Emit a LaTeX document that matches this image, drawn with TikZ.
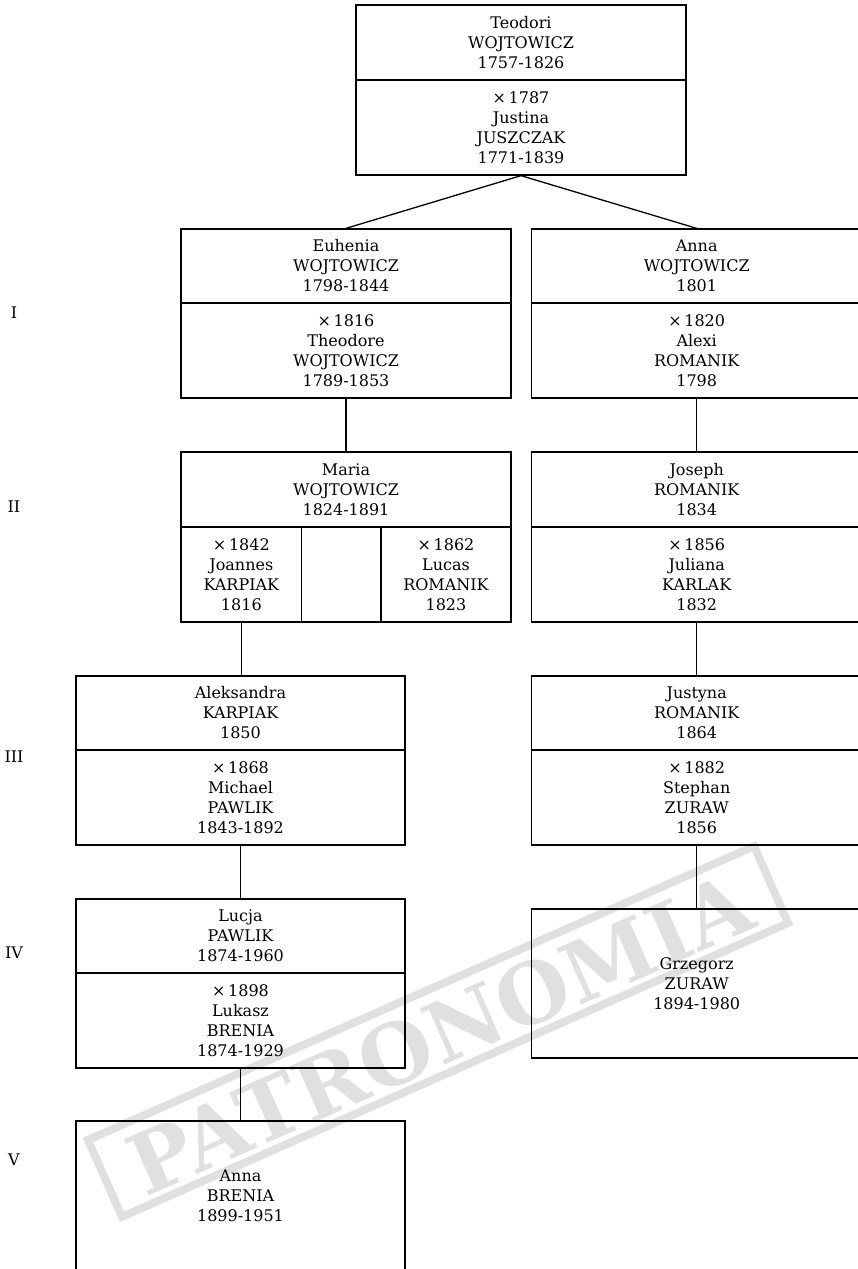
\documentclass[tikz,border=0pt]{standalone}
\usepackage{fontspec}
\setmainfont{DejaVu Serif}
\begin{document}
\begin{tikzpicture}[x=1pt,y=-1pt,
  every node/.style={inner sep=0pt, align=center, font=\fontsize{16}{20}\selectfont},
  sec/.style={draw, line width=1.3pt, minimum width=330pt},
  link/.style={line width=1.3pt},
  gen/.style={font=\fontsize{16}{20}\selectfont},
  stampcol/.style={color=black!12}]
\useasboundingbox (0,0) rectangle (857,1269);
% watermark
\node[stampcol, draw, line width=8pt, minimum width=728pt, minimum height=84pt, rotate=23.8] (stampframe) at (438,1031.5) {};
\node[stampcol, text=black!12, rotate=23.8, font=\fontsize{84}{88}\bfseries\selectfont] (stamptext) at (440,1034) {PATRONOMIA};
% generations
\node[gen] (g1) at (14,313) {I};
\node[gen] (g2) at (14,507) {II};
\node[gen] (g3) at (14,757) {III};
\node[gen] (g4) at (14,953) {IV};
\node[gen] (g5) at (14,1160) {V};
% top couple
\node[sec, minimum height=75pt] (T1) at (521,42.5) {Teodori\\WOJTOWICZ\\1757-1826};
\node[sec, minimum height=95pt] (T2) at (521,127.5) {×\,1787\\Justina\\JUSZCZAK\\1771-1839};
% left branch
\node[sec, minimum height=74pt] (E1) at (346,266) {Euhenia\\WOJTOWICZ\\1798-1844};
\node[sec, minimum height=95pt] (E2) at (346,350.5) {×\,1816\\Theodore\\WOJTOWICZ\\1789-1853};
\node[sec, minimum height=75pt] (M1) at (346,489.5) {Maria\\WOJTOWICZ\\1824-1891};
\node[sec, minimum width=120.7pt, minimum height=95pt] (M2a) at (241.35,574.5) {×\,1842\\Joannes\\KARPIAK\\1816};
\node[sec, minimum width=79.3pt, minimum height=95pt] (M2b) at (341.35,574.5) {};
\node[sec, minimum width=130pt, minimum height=95pt] (M2c) at (446,574.5) {×\,1862\\Lucas\\ROMANIK\\1823};
\node[sec, minimum width=329pt, minimum height=74pt] (K1) at (240.5,713) {Aleksandra\\KARPIAK\\1850};
\node[sec, minimum width=329pt, minimum height=95pt] (K2) at (240.5,797.5) {×\,1868\\Michael\\PAWLIK\\1843-1892};
\node[sec, minimum width=329pt, minimum height=74pt] (L1) at (240.5,936) {Lucja\\PAWLIK\\1874-1960};
\node[sec, minimum width=329pt, minimum height=95pt] (L2) at (240.5,1020.5) {×\,1898\\Lukasz\\BRENIA\\1874-1929};
\node[sec, minimum width=329pt, minimum height=149pt] (AB) at (240.5,1195.5) {Anna\\BRENIA\\1899-1951};
% right branch
\node[sec, minimum height=74pt] (A1) at (696.7,266) {Anna\\WOJTOWICZ\\1801};
\node[sec, minimum height=95pt] (A2) at (696.7,350.5) {×\,1820\\Alexi\\ROMANIK\\1798};
\node[sec, minimum height=75pt] (J1) at (696.7,489.5) {Joseph\\ROMANIK\\1834};
\node[sec, minimum height=95pt] (J2) at (696.7,574.5) {×\,1856\\Juliana\\KARLAK\\1832};
\node[sec, minimum height=74pt] (Y1) at (696.7,713) {Justyna\\ROMANIK\\1864};
\node[sec, minimum height=95pt] (Y2) at (696.7,797.5) {×\,1882\\Stephan\\ZURAW\\1856};
\node[sec, minimum height=149pt] (G) at (696.7,983.5) {Grzegorz\\ZURAW\\1894-1980};
% connectors
\draw[link] (T2.south) -- (E1.north);
\draw[link] (T2.south) -- (A1.north);
\draw[link] (E2.south) -- (M1.north);
\draw[link] (A2.south) -- (J1.north);
\draw[link] (M2a.south) -- (M2a.south |- K1.north);
\draw[link] (J2.south) -- (Y1.north);
\draw[link] (K2.south) -- (L1.north);
\draw[link] (Y2.south) -- (G.north);
\draw[link] (L2.south) -- (AB.north);
\end{tikzpicture}
\end{document}
